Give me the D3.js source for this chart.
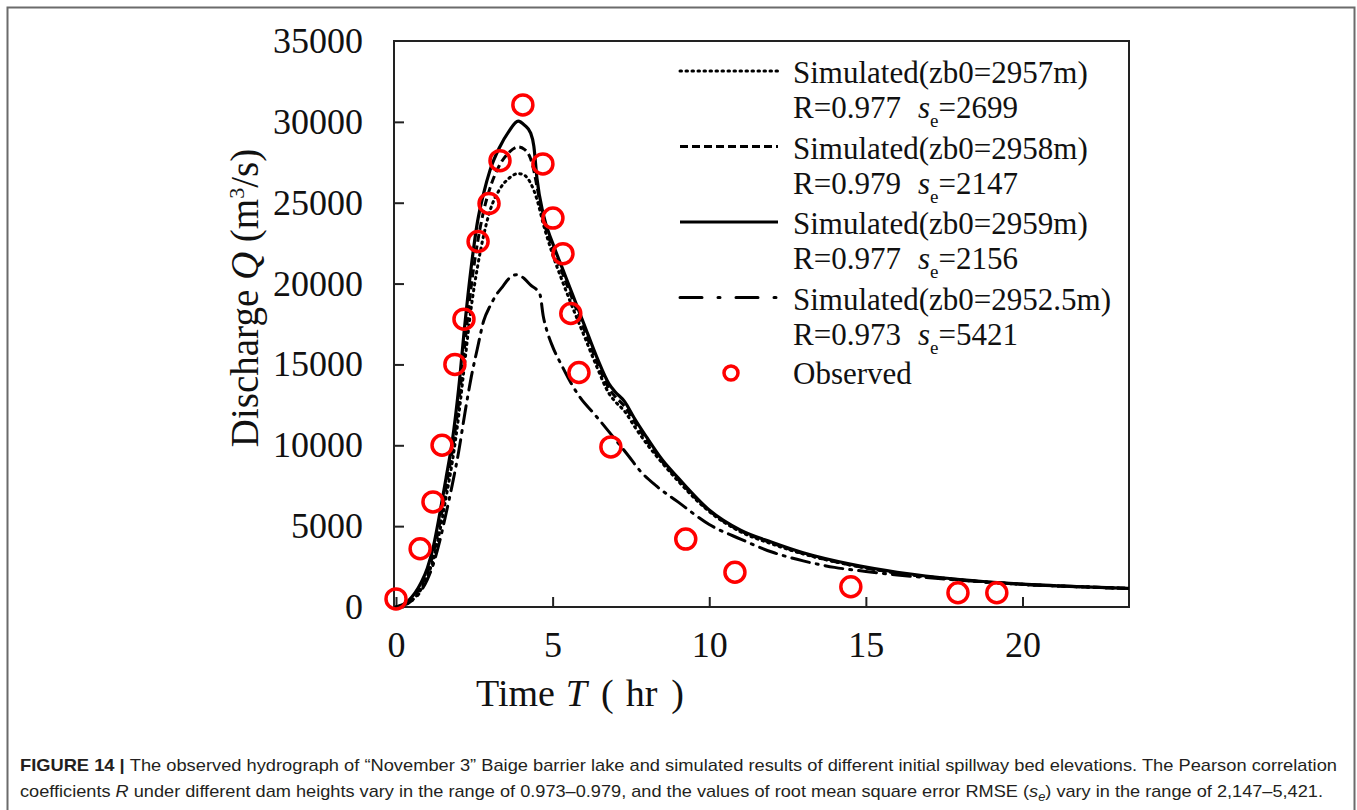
<!DOCTYPE html>
<html lang="en">
<head>
<meta charset="utf-8">
<title>Baige barrier lake hydrograph</title>
<script src="https://cdnjs.cloudflare.com/ajax/libs/d3/7.8.5/d3.min.js"></script>
<style>
  body { margin: 0; background: #fff; }
  svg { display: block; }
  .serif { font-family: "Liberation Serif", "Times New Roman", serif; fill: #111; }
  .cap { font-family: "Liberation Sans", Arial, sans-serif; fill: #231f20; }
</style>
</head>
<body>
<div id="chart"></div>
<script>
// time (hr) and discharge (m3/s)
const t2957 = [0, 0.4, 0.8, 1.0, 1.2, 1.4, 1.6, 1.8, 2.0, 2.2, 2.4, 2.6, 2.8, 3.0, 3.3, 3.6, 3.9, 4.1, 4.3, 4.5, 4.7, 5.0, 5.3, 5.6, 6.0, 6.4, 6.8, 7.0, 7.3, 7.6, 8.0, 8.5, 9.0, 10, 11, 12, 13, 14.5, 16, 18, 20, 22, 23.4];
const q2957 = [0, 250, 1100, 1900, 3000, 4700, 6800, 9000, 11800, 15200, 18500, 21000, 23000, 24500, 25800, 26500, 26800, 26700, 26200, 25200, 23700, 21800, 20200, 18700, 16800, 14900, 13200, 12700, 12100, 11200, 10100, 8900, 7800, 5900, 4650, 3900, 3280, 2600, 2100, 1680, 1400, 1240, 1150];

const t2958 = [0, 0.4, 0.8, 1.0, 1.2, 1.4, 1.6, 1.8, 2.0, 2.2, 2.4, 2.6, 2.8, 3.0, 3.3, 3.6, 3.9, 4.1, 4.3, 4.4, 4.5, 4.7, 5.0, 5.3, 5.6, 6.0, 6.4, 6.8, 7.0, 7.3, 7.6, 8.0, 8.5, 9.0, 10, 11, 12, 13, 14.5, 16, 18, 20, 22, 23.4];
const q2958 = [0, 300, 1300, 2100, 3400, 5200, 7400, 9700, 12600, 16300, 19800, 22500, 24500, 25900, 27300, 28100, 28450, 28300, 27700, 27000, 26000, 24000, 22200, 20700, 19200, 17200, 15200, 13500, 13000, 12400, 11500, 10300, 9000, 7900, 5950, 4700, 3950, 3300, 2600, 2100, 1680, 1400, 1240, 1150];

const t2959 = [0, 0.4, 0.8, 1.0, 1.2, 1.4, 1.6, 1.8, 2.0, 2.2, 2.4, 2.6, 2.8, 3.0, 3.3, 3.6, 3.9, 4.1, 4.3, 4.4, 4.5, 4.7, 5.0, 5.3, 5.6, 6.0, 6.4, 6.8, 7.0, 7.3, 7.6, 8.0, 8.5, 9.0, 10, 11, 12, 13, 14.5, 16, 18, 20, 22, 23.4];
const q2959 = [0, 400, 1500, 2400, 3800, 5800, 8000, 10300, 13500, 17500, 21000, 23800, 25600, 27000, 28400, 29400, 30050, 29800, 29300, 28500, 26500, 24300, 22500, 21000, 19500, 17500, 15500, 13800, 13300, 12700, 11700, 10500, 9100, 8000, 6000, 4750, 4000, 3350, 2650, 2150, 1700, 1420, 1250, 1150];

const t29525 = [0, 0.4, 0.8, 1.0, 1.2, 1.4, 1.6, 1.8, 2.0, 2.2, 2.4, 2.6, 2.8, 3.0, 3.2, 3.4, 3.6, 3.85, 4.1, 4.3, 4.5, 4.6, 4.7, 4.8, 5.0, 5.3, 5.6, 5.9, 6.3, 6.9, 7.4, 7.8, 8.3, 9.0, 10, 11, 12, 13, 14, 15, 16, 18, 20, 22, 23.4];
const q29525 = [0, 250, 1000, 1700, 2700, 4100, 5800, 7600, 9600, 12000, 14200, 16000, 17700, 18600, 19300, 19800, 20300, 20550, 20300, 19900, 19600, 19300, 18000, 17200, 16100, 14900, 13800, 12900, 12000, 10600, 9400, 8400, 7500, 6500, 5100, 4200, 3400, 2850, 2450, 2200, 1980, 1660, 1400, 1240, 1150];

const tObs = [0, 0.77, 1.18, 1.47, 1.88, 2.17, 2.62, 2.97, 3.32, 4.05, 4.69, 5.01, 5.33, 5.58, 5.84, 6.86, 9.25, 10.82, 14.52, 17.94, 19.18];
const qObs = [500, 3600, 6500, 10000, 15000, 17800, 22600, 24950, 27600, 31050, 27400, 24050, 21850, 18150, 14500, 9900, 4200, 2150, 1250, 880, 880];

const seriesNames = ["Simulated(zb0=2957m)", "Simulated(zb0=2958m)", "Simulated(zb0=2959m)", "Simulated(zb0=2952.5m)"];
const rValues = ["0.977", "0.979", "0.977", "0.973"];
const seValues = ["2699", "2147", "2156", "5421"];
const xTicks = [0, 5, 10, 15, 20];
const yTicks = [0, 5000, 10000, 15000, 20000, 25000, 30000, 35000];

const W = 1357, H = 810;
const plot = {left: 396, right: 1129, top: 41, bottom: 607};

const svg = d3.select("#chart").append("svg")
  .attr("width", W)
  .attr("height", H);

// outer figure frame
svg.append("rect")
  .attr("x", 7.5).attr("y", 7.5)
  .attr("width", 1347).attr("height", 808)
  .attr("fill", "none")
  .attr("stroke", "#6b6b6b")
  .attr("stroke-width", 2);

const x = d3.scaleLinear().domain([0, 23.4]).range([plot.left, plot.right]);
const y = d3.scaleLinear().domain([0, 35000]).range([plot.bottom, plot.top]);

// plot box
svg.append("rect")
  .attr("x", plot.left - 2).attr("y", plot.top)
  .attr("width", plot.right - plot.left + 2).attr("height", plot.bottom - plot.top)
  .attr("fill", "none")
  .attr("stroke", "#222")
  .attr("stroke-width", 2);

const xAxis = svg.append("g")
  .attr("transform", "translate(0," + plot.bottom + ")")
  .call(d3.axisBottom(x).tickValues(xTicks).tickFormat(d3.format("d"))
    .tickSizeInner(-10).tickSizeOuter(0).tickPadding(24));
const yAxis = svg.append("g")
  .attr("transform", "translate(" + (plot.left - 2) + ",0)")
  .call(d3.axisLeft(y).tickValues(yTicks).tickFormat(d3.format("d"))
    .tickSizeInner(-10).tickSizeOuter(0).tickPadding(31));

[xAxis, yAxis].forEach(g => {
  g.select(".domain").remove();
  g.selectAll("line").attr("stroke", "#222").attr("stroke-width", 2);
  g.selectAll("text")
    .attr("class", "serif")
    .attr("fill", "#111")
    .style("font-size", "36px");
});
yAxis.selectAll(".tick").filter(d => d === 35000).select("line").remove();

// axis titles
svg.append("text")
  .attr("class", "serif")
  .attr("x", 476).attr("y", 706)
  .style("font-size", "38px")
  .call(t => {
    t.append("tspan").text("Time");
    t.append("tspan").attr("dx", 11).style("font-style", "italic").text("T");
    t.append("tspan").attr("dx", 14).text("(");
    t.append("tspan").attr("dx", 12).text("hr");
    t.append("tspan").attr("dx", 14).text(")");
  });

svg.append("text")
  .attr("class", "serif")
  .attr("transform", "translate(258,298) rotate(-90)")
  .attr("text-anchor", "middle")
  .style("font-size", "39px")
  .call(t => {
    t.append("tspan").text("Discharge ");
    t.append("tspan").style("font-style", "italic").text("Q");
    t.append("tspan").text(" (m");
    t.append("tspan").attr("dy", -14).style("font-size", "22px").text("3");
    t.append("tspan").attr("dy", 14).text("/s)");
  });

// simulated hydrographs
const dashes = ["1.5 4.5", "8 4", null, "18 7 2 7"];
const caps = ["round", "butt", "butt", "round"];
const tSets = [t2957, t2958, t2959, t29525];
const qSets = [q2957, q2958, q2959, q29525];
const line = d3.line().x(d => x(d[0])).y(d => y(d[1])).curve(d3.curveMonotoneX);

tSets.forEach((ts, i) => {
  const pts = ts.map((t, k) => [t, qSets[i][k]]);
  svg.append("path")
    .datum(pts)
    .attr("d", line)
    .attr("fill", "none")
    .attr("stroke", "#000")
    .attr("stroke-width", i === 2 ? 3.2 : 3)
    .attr("stroke-linecap", caps[i])
    .attr("stroke-dasharray", dashes[i]);
});

// observed
svg.append("g").selectAll("circle")
  .data(tObs.map((t, k) => [t, qObs[k]]))
  .join("circle")
  .attr("cx", d => x(d[0]))
  .attr("cy", d => y(d[1]))
  .attr("r", 10)
  .attr("fill", "none")
  .attr("stroke", "#f00")
  .attr("stroke-width", 3.5);

// legend
const lg = svg.append("g");
const rowH = 75.5;
seriesNames.forEach((name, i) => {
  const yy = 72 + i * rowH;
  lg.append("line")
    .attr("x1", 680).attr("x2", 778)
    .attr("y1", yy - 1).attr("y2", yy - 1)
    .attr("stroke", "#000")
    .attr("stroke-width", 3)
    .attr("stroke-linecap", caps[i])
    .attr("stroke-dasharray", i === 3 ? "22 16 2 16" : dashes[i]);
  lg.append("text").attr("class", "serif")
    .attr("x", 793).attr("y", yy + 11)
    .style("font-size", "31px")
    .text(name);
  const y2 = yy + 35;
  lg.append("text").attr("class", "serif")
    .attr("x", 793).attr("y", y2 + 11)
    .style("font-size", "31px")
    .call(t => {
      t.append("tspan").text("R=" + rValues[i]);
      t.append("tspan").attr("x", 918).style("font-style", "italic").text("s");
      t.append("tspan").attr("dy", 9).style("font-size", "19px").text("e");
      t.append("tspan").attr("dy", -9).text("=" + seValues[i]);
    });
});
lg.append("circle")
  .attr("cx", 731).attr("cy", 373).attr("r", 7)
  .attr("fill", "none").attr("stroke", "#f00").attr("stroke-width", 3.5);
lg.append("text").attr("class", "serif")
  .attr("x", 793).attr("y", 384)
  .style("font-size", "31px")
  .text("Observed");

// caption
const c1 = svg.append("text").attr("class", "cap")
  .attr("x", 20).attr("y", 771)
  .attr("textLength", 1317).attr("lengthAdjust", "spacingAndGlyphs")
  .style("font-size", "17px");
c1.append("tspan").style("font-weight", "bold").text("FIGURE 14 | ");
c1.append("tspan").text("The observed hydrograph of \u201cNovember 3\u201d Baige barrier lake and simulated results of different initial spillway bed elevations. The Pearson correlation");

const c2 = svg.append("text").attr("class", "cap")
  .attr("x", 20).attr("y", 797)
  .attr("textLength", 1303).attr("lengthAdjust", "spacingAndGlyphs")
  .style("font-size", "17px");
c2.append("tspan").text("coefficients ");
c2.append("tspan").style("font-style", "italic").text("R");
c2.append("tspan").text(" under different dam heights vary in the range of 0.973\u20130.979, and the values of root mean square error RMSE (");
c2.append("tspan").style("font-style", "italic").text("s");
c2.append("tspan").style("font-style", "italic").style("font-size", "12px").attr("dy", 4).text("e");
c2.append("tspan").attr("dy", -4).text(") vary in the range of 2,147\u20135,421.");
</script>
</body>
</html>
